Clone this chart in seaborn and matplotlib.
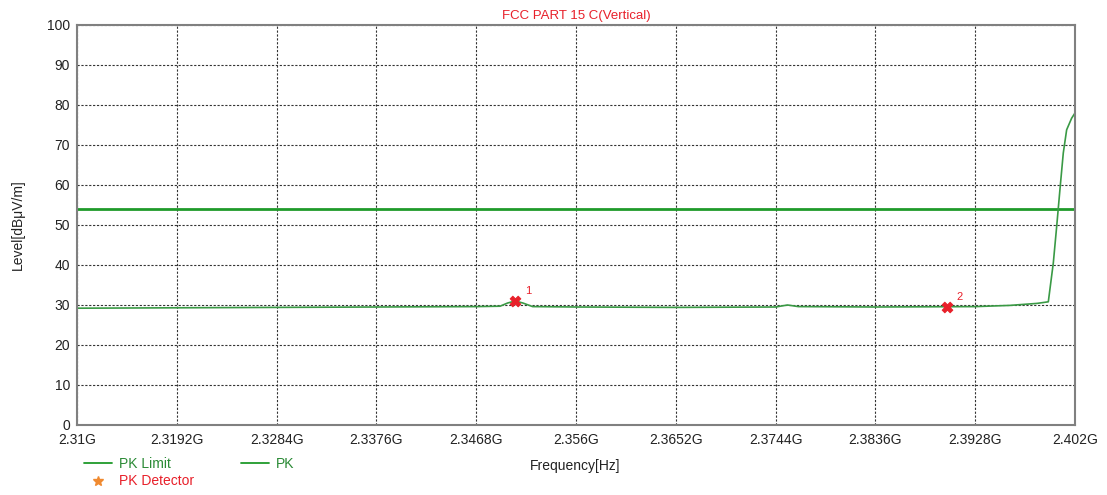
import matplotlib
matplotlib.use("Agg")
import matplotlib.pyplot as plt
import seaborn as sns
import pandas as pd
from matplotlib.lines import Line2D

# ---- data ----
tick_freqs = [2.31, 2.3192, 2.3284, 2.3376, 2.3468, 2.356, 2.3652, 2.3744, 2.3836, 2.3928, 2.402]
tick_labels = ["2.31G", "2.3192G", "2.3284G", "2.3376G", "2.3468G", "2.356G",
               "2.3652G", "2.3744G", "2.3836G", "2.3928G", "2.402G"]
y_ticks = [0, 10, 20, 30, 40, 50, 60, 70, 80, 90, 100]

pk_freq = [2.3100, 2.3192, 2.3284, 2.3376, 2.3468, 2.3490, 2.3497, 2.3504, 2.3511, 2.3520,
           2.3560, 2.3652, 2.3744, 2.3755, 2.3765, 2.3836, 2.3928, 2.3960, 2.3985, 2.39954,
           2.40000, 2.40031, 2.40061, 2.40092, 2.40123, 2.40169, 2.4020]
pk_level = [29.2, 29.3, 29.4, 29.5, 29.6, 29.7, 30.5, 31.0, 30.5, 29.6,
            29.5, 29.4, 29.5, 30.0, 29.6, 29.5, 29.6, 29.9, 30.4, 30.8,
            40.5, 49.6, 58.8, 68.0, 73.8, 76.7, 78.0]

limit_freq = [2.31, 2.402]
limit_level = [54.0, 54.0]

marker_freq = [2.3504, 2.3902]
marker_level = [31.0, 29.6]
marker_names = ["1", "2"]

title = "FCC PART 15 C(Vertical)"

# ---- plot ----
sns.set_style("white")
plt.rcParams["font.family"] = ["Liberation Sans", "DejaVu Sans"]

fig = plt.figure(figsize=(11.07, 4.95), dpi=100)
ax = fig.add_axes([77 / 1107, 1 - 425 / 495, 998 / 1107, 400 / 495])

green = "#1f9a2a"
sns.lineplot(x=limit_freq, y=limit_level, ax=ax, color=green, linewidth=2.0)
sns.lineplot(x=pk_freq, y=pk_level, ax=ax, color="#3a9a45", linewidth=1.2, sort=False)
sns.scatterplot(x=marker_freq, y=marker_level, ax=ax, marker="X", s=60,
                color="#e8202a", edgecolor="#e8202a", zorder=5)
for f, l, n in zip(marker_freq, marker_level, marker_names):
    ax.annotate(n, (f, l), xytext=(7, 5), textcoords="offset points",
                color="#e8202a", fontsize=8)

ax.set_xlim(tick_freqs[0], tick_freqs[-1])
ax.set_ylim(0, 100)
ax.set_xticks(tick_freqs)
ax.set_xticklabels(tick_labels, fontsize=10, color="#222222")
ax.set_yticks(y_ticks)
ax.set_yticklabels([str(v) for v in y_ticks], fontsize=10, color="#222222")
ax.grid(True, color="#333333", linestyle=(0, (2, 1.5)), linewidth=0.8)
ax.tick_params(axis="x", direction="in", length=5, color="#555555", pad=6)
ax.tick_params(axis="y", direction="out", length=3, color="#555555", pad=2)
for s in ax.spines.values():
    s.set_color("#808080")
    s.set_linewidth(1.5)

ax.set_title(title, color="#e8202a", fontsize=9.5, pad=4)
ax.set_xlabel("")
ax.set_ylabel("")
fig.text(575 / 1107, 1 - 466 / 495, "Frequency[Hz]", ha="center", va="center",
         fontsize=10, color="#222222")
fig.text(18 / 1107, 1 - 225 / 495, "Level[dB\u03bcV/m]", ha="center", va="center",
         rotation=90, fontsize=10, color="#222222")

handles = [
    Line2D([], [], color=green, linewidth=1.3),
    Line2D([], [], linestyle="none", marker="*", color="#f08a30", markersize=7),
    Line2D([], [], color=green, linewidth=1.3),
]
labels = ["PK Limit", "PK Detector", "PK"]
leg = fig.legend(handles, labels, loc="upper left", ncol=2, frameon=False,
                 bbox_to_anchor=(84 / 1107, 1 - 457 / 495), borderpad=0, borderaxespad=0,
                 handlelength=2.0, handletextpad=0.5, columnspacing=3.4,
                 labelspacing=0.25, fontsize=10)
for t, c in zip(leg.get_texts(), ["#2a8a35", "#e8202a", "#2a8a35"]):
    t.set_color(c)

fig.savefig("out.png", dpi=100)
